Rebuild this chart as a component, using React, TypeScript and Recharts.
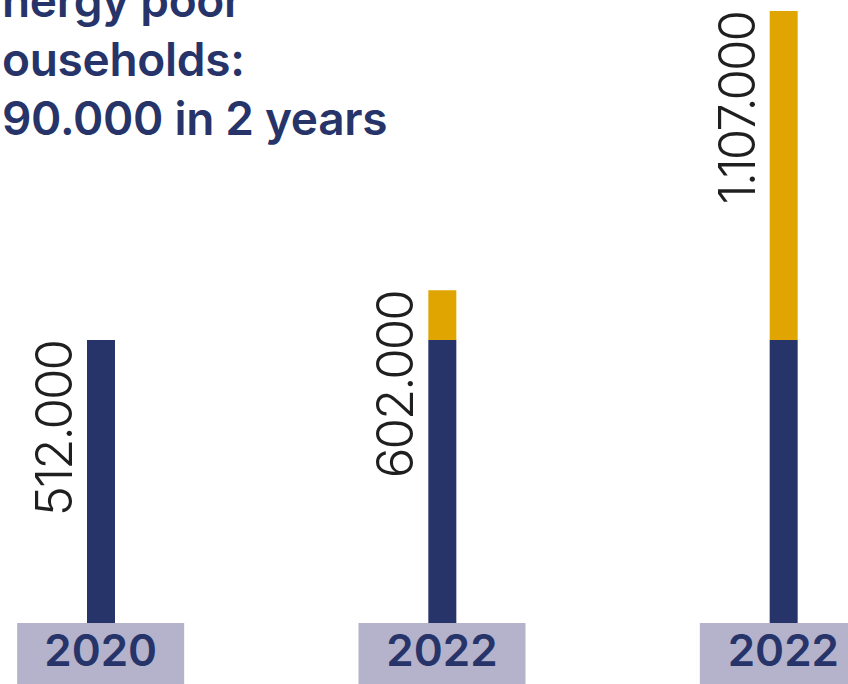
import React from 'react';
import { BarChart, Bar, XAxis, YAxis, LabelList } from 'recharts';

const years = ['2020', '2022', '2022'];
const baseHouseholds = [512, 512, 512];
const addedHouseholds = [0, 90, 595];
const totalLabels = ['512.000', '602.000', '1.107.000'];
// the title is cropped at the left edge in the original picture
const titleLines = ['nergy poor', 'ouseholds:', '90.000 in 2 years'];

const NAVY = '#263469';
const GOLD = '#e0a500';
const LAVENDER = '#b5b2cb';

const data = years.map((year, i) => ({
  key: `${year}-${i}`,
  year,
  base: baseHouseholds[i],
  added: addedHouseholds[i],
}));

const YearTick = (props: any) => {
  const { x, y, index } = props;
  return (
    <g>
      <rect x={x - 83.5} y={y} width={167} height={70} fill={LAVENDER} />
      <text
        x={x}
        y={y + 43}
        textAnchor="middle"
        fill={NAVY}
        fontFamily="Inter, sans-serif"
        fontWeight={600}
        fontSize={44}
      >
        {years[index]}
      </text>
    </g>
  );
};

// label sits on the navy bar; shift it up by the gold segment on top
const TotalLabel = (props: any) => {
  const { x, y, height, index } = props;
  const perUnit = height / baseHouseholds[index];
  const top = y - addedHouseholds[index] * perUnit;
  const tx = x - 15;
  const ty = top + 1;
  return (
    <text
      x={tx}
      y={ty}
      transform={`rotate(-90 ${tx} ${ty})`}
      textAnchor="end"
      fill="#1f1f1f"
      fontFamily="Inter, sans-serif"
      fontWeight={300}
      fontSize={51}
      letterSpacing={-2}
    >
      {totalLabels[index]}
    </text>
  );
};

const App: React.FC = () => {
  return (
    <div
      style={{
        position: 'absolute',
        left: 0,
        top: 0,
        width: 848,
        height: 684,
        overflow: 'hidden',
        background: '#fff',
      }}
    >
      <div style={{ position: 'absolute', left: -70, top: 0 }}>
        <BarChart
          width={1024}
          height={684}
          data={data}
          margin={{ top: 11, right: 0, left: 0, bottom: 0 }}
          barSize={28}
        >
          <XAxis
            dataKey="key"
            axisLine={false}
            tickLine={false}
            tickSize={0}
            tickMargin={0}
            height={61}
            interval={0}
            tick={<YearTick />}
          />
          <YAxis hide domain={[0, 1107]} />
          <Bar dataKey="base" stackId="a" fill={NAVY} isAnimationActive={false}>
            <LabelList dataKey="base" content={<TotalLabel />} />
          </Bar>
          <Bar dataKey="added" stackId="a" fill={GOLD} isAnimationActive={false} />
        </BarChart>
      </div>
      <svg
        width={848}
        height={160}
        style={{ position: 'absolute', left: 0, top: 0 }}
      >
        {titleLines.map((line, i) => (
          <text
            key={line}
            x={2}
            y={17 + i * 59}
            fill={NAVY}
            fontFamily="Inter, sans-serif"
            fontWeight={600}
            fontSize={46}
            letterSpacing={-0.3}
          >
            {line}
          </text>
        ))}
      </svg>
    </div>
  );
};

export default App;
